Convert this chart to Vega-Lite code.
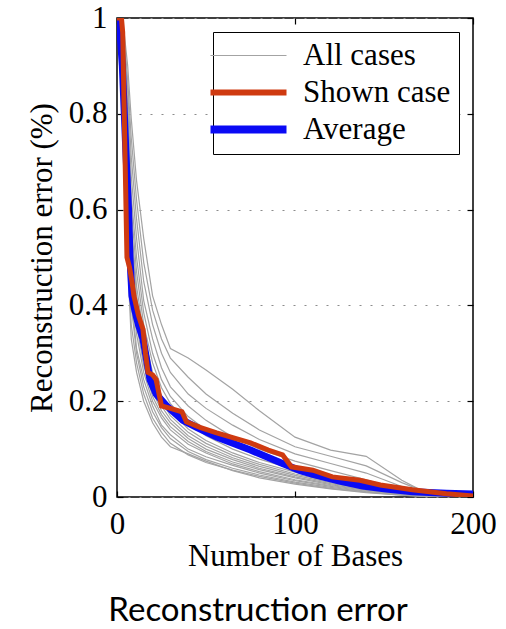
{
  "$schema": "https://vega.github.io/schema/vega-lite/v6.json",
  "width": 356,
  "height": 479,
  "autosize": {"type": "none"},
  "padding": {"left": 117, "top": 18, "right": 33, "bottom": 132},
  "background": "white",
  "config": {
    "view": {"stroke": "black", "strokeWidth": 1.5},
    "axis": {
      "domain": false,
      "tickColor": "black",
      "tickSize": -6,
      "tickWidth": 1.2,
      "labelFlush": false,
      "labelColor": "black",
      "labelFont": "Times New Roman",
      "labelFontSize": 31,
      "titleFont": "Times New Roman",
      "titleFontSize": 31,
      "titleFontWeight": "normal",
      "titleColor": "black"
    },
    "legend": {"labelFont": "Times New Roman"}
  },
  "title": {
    "text": "Reconstruction error",
    "orient": "bottom",
    "anchor": "middle",
    "font": "Lato",
    "fontSize": 33,
    "fontWeight": "normal",
    "color": "black",
    "offset": 24,
    "dx": -37
  },
  "datasets": {
    "cases": [
      {"c":1,"x":0,"y":1},{"c":1,"x":2,"y":0.95},{"c":1,"x":4,"y":0.74},{"c":1,"x":6,"y":0.49},{"c":1,"x":8,"y":0.33},{"c":1,"x":11,"y":0.26},{"c":1,"x":15,"y":0.2},{"c":1,"x":20,"y":0.155},{"c":1,"x":25,"y":0.125},{"c":1,"x":30,"y":0.105},{"c":1,"x":40,"y":0.09},{"c":1,"x":50,"y":0.075},{"c":1,"x":65,"y":0.055},{"c":1,"x":80,"y":0.04},{"c":1,"x":100,"y":0.027},{"c":1,"x":120,"y":0.017},{"c":1,"x":140,"y":0.009},{"c":1,"x":160,"y":0.004},{"c":1,"x":175,"y":0.001},{"c":1,"x":200,"y":0},
      {"c":2,"x":0,"y":1},{"c":2,"x":2,"y":0.96},{"c":2,"x":4,"y":0.78},{"c":2,"x":6,"y":0.52},{"c":2,"x":8,"y":0.36},{"c":2,"x":11,"y":0.28},{"c":2,"x":15,"y":0.215},{"c":2,"x":20,"y":0.165},{"c":2,"x":25,"y":0.135},{"c":2,"x":30,"y":0.112},{"c":2,"x":40,"y":0.088},{"c":2,"x":50,"y":0.072},{"c":2,"x":65,"y":0.056},{"c":2,"x":80,"y":0.043},{"c":2,"x":100,"y":0.029},{"c":2,"x":120,"y":0.018},{"c":2,"x":140,"y":0.01},{"c":2,"x":160,"y":0.004},{"c":2,"x":175,"y":0.001},{"c":2,"x":200,"y":0},
      {"c":3,"x":0,"y":1},{"c":3,"x":2,"y":0.97},{"c":3,"x":4,"y":0.8},{"c":3,"x":6,"y":0.56},{"c":3,"x":8,"y":0.4},{"c":3,"x":11,"y":0.3},{"c":3,"x":15,"y":0.23},{"c":3,"x":20,"y":0.178},{"c":3,"x":25,"y":0.145},{"c":3,"x":30,"y":0.122},{"c":3,"x":40,"y":0.095},{"c":3,"x":50,"y":0.078},{"c":3,"x":65,"y":0.06},{"c":3,"x":80,"y":0.046},{"c":3,"x":100,"y":0.031},{"c":3,"x":120,"y":0.02},{"c":3,"x":140,"y":0.011},{"c":3,"x":160,"y":0.005},{"c":3,"x":175,"y":0.002},{"c":3,"x":200,"y":0},
      {"c":4,"x":0,"y":1},{"c":4,"x":2,"y":0.97},{"c":4,"x":4,"y":0.82},{"c":4,"x":6,"y":0.6},{"c":4,"x":8,"y":0.42},{"c":4,"x":11,"y":0.31},{"c":4,"x":15,"y":0.245},{"c":4,"x":20,"y":0.19},{"c":4,"x":25,"y":0.15},{"c":4,"x":30,"y":0.13},{"c":4,"x":40,"y":0.1},{"c":4,"x":50,"y":0.084},{"c":4,"x":65,"y":0.066},{"c":4,"x":80,"y":0.05},{"c":4,"x":100,"y":0.034},{"c":4,"x":120,"y":0.022},{"c":4,"x":140,"y":0.012},{"c":4,"x":160,"y":0.005},{"c":4,"x":175,"y":0.002},{"c":4,"x":200,"y":0},
      {"c":5,"x":0,"y":1},{"c":5,"x":2,"y":0.98},{"c":5,"x":4,"y":0.84},{"c":5,"x":6,"y":0.62},{"c":5,"x":8,"y":0.45},{"c":5,"x":11,"y":0.34},{"c":5,"x":15,"y":0.26},{"c":5,"x":20,"y":0.2},{"c":5,"x":25,"y":0.165},{"c":5,"x":30,"y":0.14},{"c":5,"x":40,"y":0.11},{"c":5,"x":50,"y":0.092},{"c":5,"x":65,"y":0.069},{"c":5,"x":80,"y":0.053},{"c":5,"x":100,"y":0.036},{"c":5,"x":120,"y":0.024},{"c":5,"x":140,"y":0.014},{"c":5,"x":160,"y":0.006},{"c":5,"x":175,"y":0.002},{"c":5,"x":200,"y":0},
      {"c":6,"x":0,"y":1},{"c":6,"x":2,"y":0.98},{"c":6,"x":4,"y":0.86},{"c":6,"x":6,"y":0.64},{"c":6,"x":8,"y":0.47},{"c":6,"x":11,"y":0.36},{"c":6,"x":15,"y":0.275},{"c":6,"x":20,"y":0.21},{"c":6,"x":25,"y":0.172},{"c":6,"x":30,"y":0.147},{"c":6,"x":40,"y":0.116},{"c":6,"x":50,"y":0.095},{"c":6,"x":65,"y":0.073},{"c":6,"x":80,"y":0.057},{"c":6,"x":100,"y":0.04},{"c":6,"x":120,"y":0.026},{"c":6,"x":140,"y":0.015},{"c":6,"x":160,"y":0.007},{"c":6,"x":175,"y":0.002},{"c":6,"x":200,"y":0},
      {"c":7,"x":0,"y":1},{"c":7,"x":2,"y":0.98},{"c":7,"x":4,"y":0.87},{"c":7,"x":6,"y":0.67},{"c":7,"x":8,"y":0.5},{"c":7,"x":11,"y":0.38},{"c":7,"x":15,"y":0.29},{"c":7,"x":20,"y":0.22},{"c":7,"x":25,"y":0.18},{"c":7,"x":30,"y":0.155},{"c":7,"x":40,"y":0.122},{"c":7,"x":50,"y":0.1},{"c":7,"x":65,"y":0.078},{"c":7,"x":80,"y":0.06},{"c":7,"x":100,"y":0.042},{"c":7,"x":120,"y":0.028},{"c":7,"x":140,"y":0.017},{"c":7,"x":160,"y":0.008},{"c":7,"x":175,"y":0.003},{"c":7,"x":200,"y":0},
      {"c":8,"x":0,"y":1},{"c":8,"x":2,"y":0.99},{"c":8,"x":4,"y":0.88},{"c":8,"x":6,"y":0.69},{"c":8,"x":8,"y":0.52},{"c":8,"x":11,"y":0.4},{"c":8,"x":15,"y":0.305},{"c":8,"x":20,"y":0.232},{"c":8,"x":25,"y":0.19},{"c":8,"x":30,"y":0.162},{"c":8,"x":40,"y":0.128},{"c":8,"x":50,"y":0.106},{"c":8,"x":65,"y":0.082},{"c":8,"x":80,"y":0.064},{"c":8,"x":100,"y":0.045},{"c":8,"x":120,"y":0.03},{"c":8,"x":140,"y":0.018},{"c":8,"x":160,"y":0.008},{"c":8,"x":175,"y":0.003},{"c":8,"x":200,"y":0},
      {"c":9,"x":0,"y":1},{"c":9,"x":2,"y":0.99},{"c":9,"x":4,"y":0.9},{"c":9,"x":6,"y":0.72},{"c":9,"x":8,"y":0.55},{"c":9,"x":11,"y":0.42},{"c":9,"x":15,"y":0.32},{"c":9,"x":20,"y":0.245},{"c":9,"x":25,"y":0.2},{"c":9,"x":30,"y":0.17},{"c":9,"x":40,"y":0.135},{"c":9,"x":50,"y":0.112},{"c":9,"x":65,"y":0.087},{"c":9,"x":80,"y":0.068},{"c":9,"x":100,"y":0.048},{"c":9,"x":120,"y":0.032},{"c":9,"x":140,"y":0.02},{"c":9,"x":160,"y":0.009},{"c":9,"x":175,"y":0.003},{"c":9,"x":200,"y":0},
      {"c":10,"x":0,"y":1},{"c":10,"x":2,"y":0.99},{"c":10,"x":4,"y":0.91},{"c":10,"x":6,"y":0.74},{"c":10,"x":8,"y":0.57},{"c":10,"x":11,"y":0.44},{"c":10,"x":15,"y":0.34},{"c":10,"x":20,"y":0.26},{"c":10,"x":25,"y":0.212},{"c":10,"x":30,"y":0.18},{"c":10,"x":40,"y":0.142},{"c":10,"x":50,"y":0.118},{"c":10,"x":65,"y":0.092},{"c":10,"x":80,"y":0.072},{"c":10,"x":100,"y":0.052},{"c":10,"x":120,"y":0.035},{"c":10,"x":140,"y":0.022},{"c":10,"x":160,"y":0.01},{"c":10,"x":175,"y":0.004},{"c":10,"x":200,"y":0},
      {"c":11,"x":0,"y":1},{"c":11,"x":2,"y":0.99},{"c":11,"x":4,"y":0.92},{"c":11,"x":6,"y":0.77},{"c":11,"x":8,"y":0.6},{"c":11,"x":11,"y":0.47},{"c":11,"x":15,"y":0.36},{"c":11,"x":20,"y":0.28},{"c":11,"x":25,"y":0.228},{"c":11,"x":30,"y":0.195},{"c":11,"x":40,"y":0.155},{"c":11,"x":50,"y":0.128},{"c":11,"x":65,"y":0.1},{"c":11,"x":80,"y":0.079},{"c":11,"x":100,"y":0.057},{"c":11,"x":120,"y":0.04},{"c":11,"x":140,"y":0.025},{"c":11,"x":160,"y":0.011},{"c":11,"x":175,"y":0.004},{"c":11,"x":200,"y":0},
      {"c":12,"x":0,"y":1},{"c":12,"x":2,"y":0.99},{"c":12,"x":4,"y":0.93},{"c":12,"x":6,"y":0.8},{"c":12,"x":8,"y":0.63},{"c":12,"x":11,"y":0.5},{"c":12,"x":15,"y":0.385},{"c":12,"x":20,"y":0.3},{"c":12,"x":25,"y":0.245},{"c":12,"x":30,"y":0.21},{"c":12,"x":40,"y":0.168},{"c":12,"x":50,"y":0.14},{"c":12,"x":65,"y":0.11},{"c":12,"x":80,"y":0.087},{"c":12,"x":100,"y":0.063},{"c":12,"x":120,"y":0.045},{"c":12,"x":140,"y":0.028},{"c":12,"x":160,"y":0.012},{"c":12,"x":175,"y":0.004},{"c":12,"x":200,"y":0},
      {"c":13,"x":0,"y":1},{"c":13,"x":2,"y":1},{"c":13,"x":4,"y":0.94},{"c":13,"x":6,"y":0.82},{"c":13,"x":8,"y":0.67},{"c":13,"x":11,"y":0.54},{"c":13,"x":15,"y":0.41},{"c":13,"x":20,"y":0.33},{"c":13,"x":25,"y":0.27},{"c":13,"x":30,"y":0.23},{"c":13,"x":40,"y":0.19},{"c":13,"x":50,"y":0.16},{"c":13,"x":65,"y":0.125},{"c":13,"x":80,"y":0.1},{"c":13,"x":100,"y":0.075},{"c":13,"x":120,"y":0.055},{"c":13,"x":140,"y":0.036},{"c":13,"x":160,"y":0.015},{"c":13,"x":175,"y":0.005},{"c":13,"x":200,"y":0},
      {"c":14,"x":0,"y":1},{"c":14,"x":2,"y":1},{"c":14,"x":4,"y":0.95},{"c":14,"x":6,"y":0.85},{"c":14,"x":8,"y":0.71},{"c":14,"x":11,"y":0.58},{"c":14,"x":15,"y":0.45},{"c":14,"x":20,"y":0.36},{"c":14,"x":25,"y":0.3},{"c":14,"x":30,"y":0.26},{"c":14,"x":40,"y":0.215},{"c":14,"x":50,"y":0.185},{"c":14,"x":65,"y":0.15},{"c":14,"x":80,"y":0.12},{"c":14,"x":100,"y":0.09},{"c":14,"x":120,"y":0.07},{"c":14,"x":140,"y":0.05},{"c":14,"x":160,"y":0.022},{"c":14,"x":175,"y":0.006},{"c":14,"x":200,"y":0},
      {"c":15,"x":0,"y":1},{"c":15,"x":2,"y":1},{"c":15,"x":4,"y":0.96},{"c":15,"x":6,"y":0.87},{"c":15,"x":8,"y":0.75},{"c":15,"x":11,"y":0.62},{"c":15,"x":15,"y":0.49},{"c":15,"x":20,"y":0.39},{"c":15,"x":25,"y":0.33},{"c":15,"x":30,"y":0.29},{"c":15,"x":40,"y":0.25},{"c":15,"x":50,"y":0.215},{"c":15,"x":65,"y":0.175},{"c":15,"x":80,"y":0.14},{"c":15,"x":100,"y":0.105},{"c":15,"x":120,"y":0.085},{"c":15,"x":140,"y":0.065},{"c":15,"x":160,"y":0.03},{"c":15,"x":175,"y":0.008},{"c":15,"x":200,"y":0},
      {"c":16,"x":0,"y":1},{"c":16,"x":2,"y":1},{"c":16,"x":4,"y":0.97},{"c":16,"x":6,"y":0.9},{"c":16,"x":8,"y":0.79},{"c":16,"x":11,"y":0.66},{"c":16,"x":15,"y":0.54},{"c":16,"x":20,"y":0.42},{"c":16,"x":25,"y":0.36},{"c":16,"x":30,"y":0.31},{"c":16,"x":40,"y":0.29},{"c":16,"x":50,"y":0.265},{"c":16,"x":65,"y":0.225},{"c":16,"x":80,"y":0.18},{"c":16,"x":100,"y":0.125},{"c":16,"x":120,"y":0.098},{"c":16,"x":140,"y":0.085},{"c":16,"x":160,"y":0.035},{"c":16,"x":175,"y":0.006},{"c":16,"x":200,"y":0}
    ],
    "avg": [
      {"x":0,"y":1},{"x":1.5,"y":0.98},{"x":3,"y":0.9},{"x":5,"y":0.72},{"x":6.5,"y":0.6},{"x":7.3,"y":0.5},{"x":8.4,"y":0.42},{"x":10,"y":0.39},{"x":12,"y":0.36},{"x":14.6,"y":0.33},{"x":16.5,"y":0.29},{"x":18.5,"y":0.245},{"x":22,"y":0.215},{"x":28,"y":0.19},{"x":37,"y":0.16},{"x":45,"y":0.145},{"x":56,"y":0.125},{"x":75,"y":0.098},{"x":93,"y":0.07},{"x":103,"y":0.055},{"x":110,"y":0.047},{"x":125,"y":0.033},{"x":138,"y":0.023},{"x":150,"y":0.017},{"x":166,"y":0.011},{"x":185,"y":0.008},{"x":200,"y":0.006}
    ],
    "shown": [
      {"x":0,"y":1},{"x":2.5,"y":1},{"x":3.2,"y":0.97},{"x":5.6,"y":0.5},{"x":7,"y":0.48},{"x":8.4,"y":0.45},{"x":9.5,"y":0.42},{"x":12,"y":0.38},{"x":14.6,"y":0.35},{"x":16,"y":0.3},{"x":17.4,"y":0.26},{"x":20,"y":0.255},{"x":22,"y":0.245},{"x":25,"y":0.19},{"x":30,"y":0.185},{"x":36.5,"y":0.178},{"x":39,"y":0.157},{"x":47,"y":0.145},{"x":56,"y":0.134},{"x":65,"y":0.124},{"x":75,"y":0.113},{"x":85,"y":0.098},{"x":93,"y":0.088},{"x":98,"y":0.063},{"x":110,"y":0.056},{"x":121,"y":0.042},{"x":136.5,"y":0.035},{"x":148,"y":0.025},{"x":166,"y":0.015},{"x":185,"y":0.007},{"x":200,"y":0.002}
    ]
  },
  "layer": [
    {
      "data": {"name": "cases"},
      "mark": {"type": "line", "strokeWidth": 1.2, "clip": true},
      "encoding": {
        "x": {"field": "x", "type": "quantitative", "scale": {"domain": [0, 200], "nice": false},
              "axis": {"values": [0, 100, 200], "title": "Number of Bases", "grid": false, "labelPadding": 18, "titlePadding": 2}},
        "y": {"field": "y", "type": "quantitative", "scale": {"domain": [0, 1], "nice": false},
              "axis": {"values": [0, 0.2, 0.4, 0.6, 0.8, 1], "format": ".1~f", "title": "Reconstruction error (%)", "grid": true, "gridDash": [2, 9], "gridColor": "#8c8c8c", "gridWidth": 1.2, "labelPadding": 16, "titlePadding": 10}},
        "detail": {"field": "c", "type": "nominal"},
        "color": {"datum": "All cases", "type": "nominal",
                  "scale": {"domain": ["All cases", "Shown case", "Average"], "range": ["#a3a3a3", "#cf3a10", "#0a0af5"]},
                  "legend": {
                    "title": null,
                    "orient": "top-right",
                    "offset": 14,
                    "strokeColor": "black",
                    "fillColor": "white",
                    "padding": 8,
                    "labelFont": "Times New Roman",
                    "labelFontSize": 31,
                    "labelColor": "black",
                    "labelOffset": 39,
                    "symbolOffset": 12,
                    "symbolType": "stroke",
                    "symbolSize": 5776,
                    "rowPadding": 5,
                    "encode": {"symbols": {"update": {"strokeWidth": {"signal": "datum.value === 'All cases' ? 1.2 : datum.value === 'Shown case' ? 6 : 8"}}}}
                  }}
      }
    },
    {
      "data": {"name": "avg"},
      "mark": {"type": "line", "strokeWidth": 7, "clip": true},
      "encoding": {
        "x": {"field": "x", "type": "quantitative", "axis": null},
        "y": {"field": "y", "type": "quantitative", "axis": null},
        "color": {"datum": "Average", "type": "nominal"}
      }
    },
    {
      "data": {"name": "shown"},
      "mark": {"type": "line", "strokeWidth": 5, "clip": true},
      "encoding": {
        "x": {"field": "x", "type": "quantitative", "axis": null},
        "y": {"field": "y", "type": "quantitative", "axis": null},
        "color": {"datum": "Shown case", "type": "nominal"}
      }
    },
    {
      "data": {"name": "avg"},
      "mark": {"type": "line", "strokeOpacity": 0},
      "encoding": {
        "x": {"field": "x", "type": "quantitative",
              "axis": {"orient": "top", "values": [0, 100, 200], "labels": false, "title": null, "grid": false}},
        "y": {"field": "y", "type": "quantitative",
              "axis": {"orient": "right", "values": [0, 0.2, 0.4, 0.6, 0.8, 1], "labels": false, "title": null, "grid": false}}
      }
    }
  ],
  "resolve": {"axis": {"x": "independent", "y": "independent"}}
}
